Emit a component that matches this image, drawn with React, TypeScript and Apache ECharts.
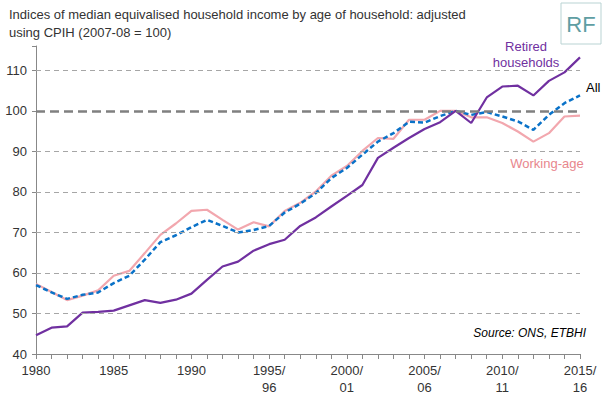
import React, { useEffect, useRef } from "react";
import * as echarts from "echarts";

const categories = [
  "1980", "1981", "1982", "1983", "1984", "1985", "1986", "1987", "1988", "1989",
  "1990", "1991", "1992", "1993", "1994", "1995/96", "1996/97", "1997/98", "1998/99", "1999/00",
  "2000/01", "2001/02", "2002/03", "2003/04", "2004/05", "2005/06", "2006/07", "2007/08", "2008/09", "2009/10",
  "2010/11", "2011/12", "2012/13", "2013/14", "2014/15", "2015/16",
];

const retired = [
  44.6, 46.5, 46.8, 50.2, 50.4, 50.7, 52.0, 53.3, 52.6, 53.4,
  54.9, 58.3, 61.6, 62.8, 65.5, 67.1, 68.2, 71.6, 73.7, 76.4,
  79.0, 81.7, 88.4, 90.9, 93.3, 95.5, 97.2, 100.0, 97.0, 103.3,
  106.0, 106.2, 103.8, 107.4, 109.5, 113.2,
];

const workingAge = [
  57.3, 55.3, 53.3, 54.4, 55.7, 59.3, 60.5, 64.9, 69.4, 72.2,
  75.3, 75.6, 73.1, 70.7, 72.5, 71.5, 75.3, 77.3, 80.1, 84.0,
  86.4, 90.1, 93.3, 93.1, 97.8, 97.8, 100.0, 100.0, 98.4, 98.4,
  97.0, 94.9, 92.4, 94.5, 98.6, 98.8,
];

const allHouseholds = [
  57.0, 55.2, 53.6, 54.6, 55.2, 57.5, 59.3, 63.3, 67.6, 69.3,
  71.3, 73.1, 71.6, 70.0, 70.6, 71.6, 74.9, 77.1, 79.7, 83.4,
  85.9, 89.2, 92.4, 94.5, 97.3, 97.1, 98.7, 100.0, 99.0, 99.7,
  98.6, 97.4, 95.3, 99.0, 101.9, 103.8,
];

const gridValues = [50, 60, 70, 80, 90, 110];
const baseValue = 100;

const FONT = "Liberation Sans";

export default function App() {
  const ref = useRef<HTMLDivElement>(null);
  useEffect(() => {
    if (!ref.current) return;
    const chart = echarts.init(ref.current, null, { renderer: "svg" });
    chart.setOption({
      animation: false,
      textStyle: { fontFamily: FONT },
      grid: { left: 36, right: 25, top: 46, bottom: 43, containLabel: false },
      xAxis: {
        type: "category",
        data: categories,
        boundaryGap: false,
        axisLine: { lineStyle: { color: "#888", width: 1 } },
        axisTick: { show: true, interval: 0, length: 5, lineStyle: { color: "#888" } },
        axisLabel: {
          interval: 4,
          color: "#333",
          fontSize: 13,
          fontFamily: FONT,
          margin: 8,
          lineHeight: 17,
          formatter: (v: string) => v.replace("/", "/\n"),
        },
        splitLine: { show: false },
      },
      yAxis: {
        type: "value",
        min: 40,
        max: 116,
        interval: 10,
        axisLine: { show: true, lineStyle: { color: "#888", width: 1 } },
        axisTick: { show: true, length: 4, lineStyle: { color: "#888" } },
        axisLabel: {
          color: "#333",
          fontSize: 13,
          fontFamily: FONT,
          margin: 9,
          formatter: (v: number) => (v % 10 === 0 ? String(v) : ""),
        },
        splitLine: { show: false },
      },
      series: [
        {
          type: "line",
          data: [],
          silent: true,
          markLine: {
            silent: true,
            symbol: "none",
            label: { show: false },
            data: [
              ...gridValues.map((v) => ({
                yAxis: v,
                lineStyle: { color: "#a6a6a6", type: [5, 4], width: 1 },
              })),
              {
                yAxis: baseValue,
                lineStyle: { color: "#808080", type: [9, 5], width: 2.5 },
              },
            ],
          },
        },
        {
          name: "Working-age",
          type: "line",
          data: workingAge,
          symbol: "none",
          lineStyle: { color: "#f2a7ae", width: 2.2 },
          itemStyle: { color: "#f2a7ae" },
        },
        {
          name: "All",
          type: "line",
          data: allHouseholds,
          symbol: "none",
          lineStyle: { color: "#0a72c8", width: 2.5, type: [5, 3] },
          itemStyle: { color: "#0a72c8" },
        },
        {
          name: "Retired households",
          type: "line",
          data: retired,
          symbol: "none",
          lineStyle: { color: "#7030a0", width: 2.2 },
          itemStyle: { color: "#7030a0" },
        },
      ],
      graphic: [
        {
          type: "text",
          left: 9,
          top: 5,
          style: {
            text: "Indices of median equivalised household income by age of household: adjusted\nusing CPIH (2007-08 = 100)",
            fill: "#333",
            font: `13px "${FONT}"`,
            lineHeight: 18,
          },
        },
        {
          type: "rect",
          shape: { x: 561, y: 3, width: 40, height: 41 },
          style: { fill: "#fff", stroke: "#b9d3d3", lineWidth: 1 },
        },
        {
          type: "text",
          x: 581,
          y: 24,
          style: {
            text: "RF",
            fill: "#5f9ea3",
            font: `22px "${FONT}"`,
            align: "center",
            verticalAlign: "middle",
          },
        },
        {
          type: "text",
          x: 526,
          y: 54,
          style: {
            text: "Retired\nhouseholds",
            fill: "#7030a0",
            font: `13px "${FONT}"`,
            align: "center",
            verticalAlign: "middle",
            lineHeight: 16,
          },
        },
        {
          type: "text",
          x: 586,
          y: 87,
          style: {
            text: "All",
            fill: "#000",
            font: `13px "${FONT}"`,
            align: "left",
            verticalAlign: "middle",
          },
        },
        {
          type: "text",
          x: 547,
          y: 163,
          style: {
            text: "Working-age",
            fill: "#e8868d",
            font: `13px "${FONT}"`,
            align: "center",
            verticalAlign: "middle",
          },
        },
        {
          type: "text",
          x: 586,
          y: 333,
          style: {
            text: "Source: ONS, ETBHI",
            fill: "#000",
            font: `italic 12px "${FONT}"`,
            align: "right",
            verticalAlign: "middle",
          },
        },
      ],
    });
    return () => chart.dispose();
  }, []);
  return <div ref={ref} style={{ width: 605, height: 397, position: "absolute", left: 0, top: 0 }} />;
}
